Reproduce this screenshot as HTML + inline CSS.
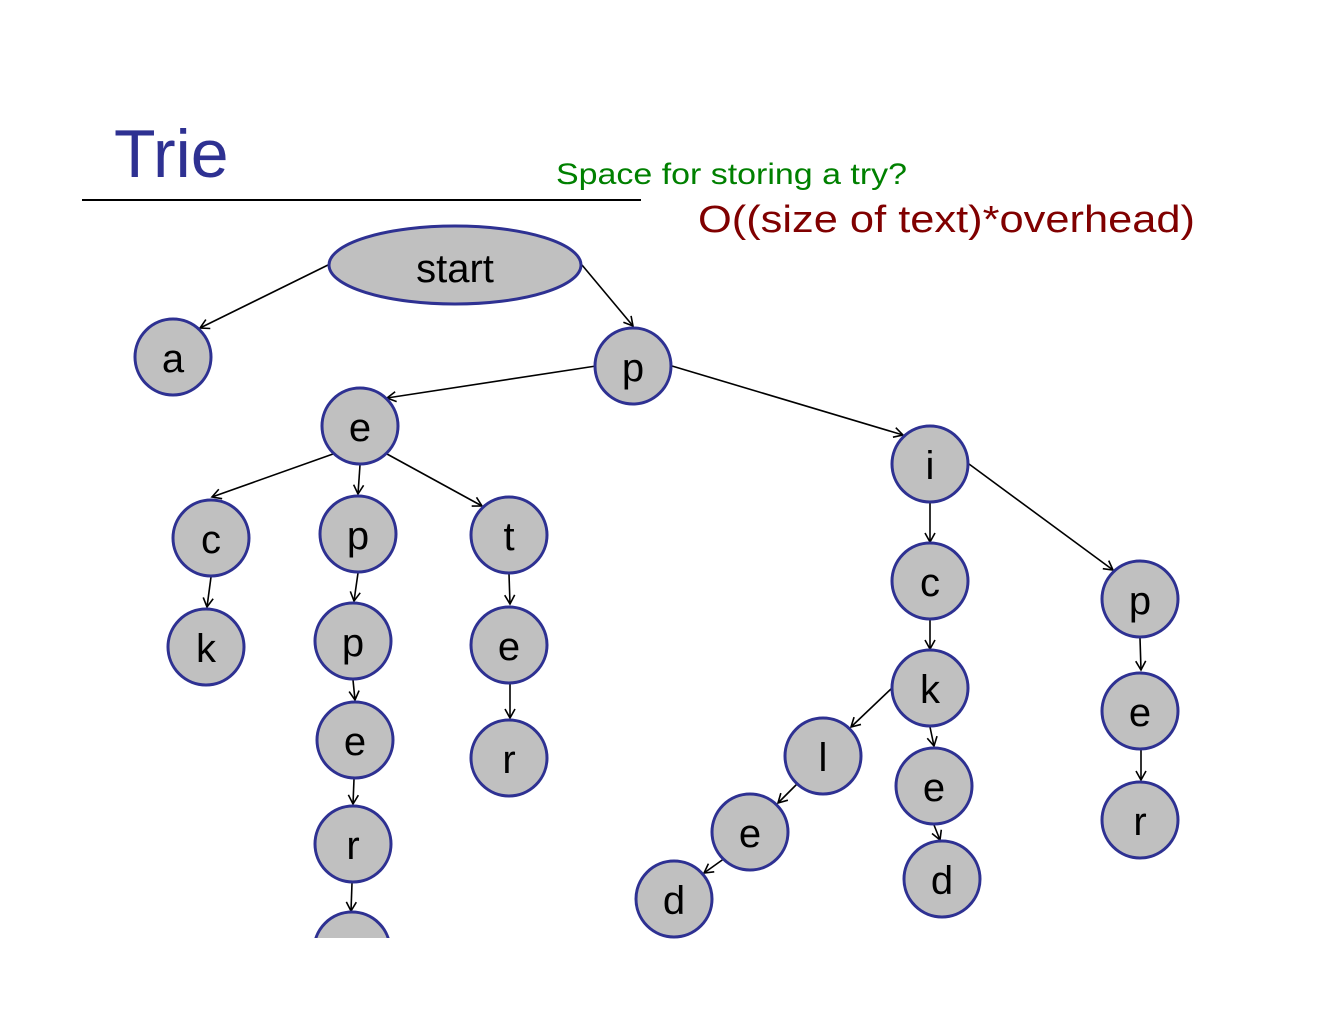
<!DOCTYPE html>
<html><head><meta charset="utf-8"><style>
html,body{margin:0;padding:0;background:#fff;}
svg{display:block;}
.n{fill:#c0c0c0;stroke:#2e3192;stroke-width:3;}
.t{font-family:"Liberation Sans",sans-serif;font-size:40px;fill:#000;text-anchor:middle;}
.e{stroke:#000;stroke-width:1.6;fill:none;marker-end:url(#ar);}
</style></head><body>
<svg width="1320" height="1020" viewBox="0 0 1320 1020" xmlns="http://www.w3.org/2000/svg">
<defs>
<marker id="ar" markerWidth="12" markerHeight="12" refX="10" refY="6" orient="auto" markerUnits="userSpaceOnUse">
<path d="M1,1 L10,6 L1,11" fill="none" stroke="#000" stroke-width="1.6"/>
</marker>
<clipPath id="cl"><rect x="0" y="0" width="1320" height="938"/></clipPath>
</defs>
<text x="114" y="177" font-family="Liberation Sans,sans-serif" font-size="68" fill="#2e3192">Trie</text>
<line x1="82" y1="200" x2="641" y2="200" stroke="#000" stroke-width="2"/>
<text x="556" y="184" font-family="Liberation Sans,sans-serif" font-size="30" fill="#008000" textLength="351" lengthAdjust="spacingAndGlyphs">Space for storing a try?</text>
<text x="698" y="232" font-family="Liberation Sans,sans-serif" font-size="38" fill="#800000" textLength="497" lengthAdjust="spacingAndGlyphs">O((size of text)*overhead)</text>

<g>
<line class="e" x1="328" y1="265" x2="200" y2="328"/>
<line class="e" x1="582" y1="265" x2="633" y2="326"/>
<line class="e" x1="596" y1="366" x2="387" y2="398"/>
<line class="e" x1="672" y1="366" x2="903" y2="435"/>
<line class="e" x1="333" y1="454" x2="212" y2="497"/>
<line class="e" x1="360" y1="465" x2="358" y2="494"/>
<line class="e" x1="387" y1="454" x2="482" y2="506"/>
<line class="e" x1="930" y1="503" x2="930" y2="542"/>
<line class="e" x1="969" y1="464" x2="1113" y2="570"/>
<line class="e" x1="211" y1="577" x2="207" y2="607"/>
<line class="e" x1="358" y1="573" x2="354" y2="601"/>
<line class="e" x1="509" y1="574" x2="510" y2="604"/>
<line class="e" x1="930" y1="620" x2="930" y2="649"/>
<line class="e" x1="1140" y1="638" x2="1141" y2="670"/>
<line class="e" x1="353" y1="680" x2="355" y2="700"/>
<line class="e" x1="510" y1="684" x2="510" y2="718"/>
<line class="e" x1="892" y1="688" x2="851" y2="727"/>
<line class="e" x1="930" y1="727" x2="934" y2="746"/>
<line class="e" x1="1141" y1="750" x2="1141" y2="780"/>
<line class="e" x1="354" y1="779" x2="353" y2="804"/>
<line class="e" x1="797" y1="784" x2="778" y2="803"/>
<line class="e" x1="934" y1="825" x2="940" y2="840"/>
<line class="e" x1="352" y1="883" x2="351" y2="911"/>
<line class="e" x1="725" y1="858" x2="704" y2="873"/>
</g>

<ellipse class="n" cx="455" cy="265" rx="126" ry="39"/>
<text class="t" x="455" y="282">start</text>

<g>
<circle class="n" cx="173" cy="357" r="38"/><text class="t" x="173" y="372">a</text>
<circle class="n" cx="633" cy="366" r="38"/><text class="t" x="633" y="381">p</text>
<circle class="n" cx="360" cy="426" r="38"/><text class="t" x="360" y="441">e</text>
<circle class="n" cx="930" cy="464" r="38"/><text class="t" x="930" y="479">i</text>
<circle class="n" cx="211" cy="538" r="38"/><text class="t" x="211" y="553">c</text>
<circle class="n" cx="358" cy="534" r="38"/><text class="t" x="358" y="549">p</text>
<circle class="n" cx="509" cy="535" r="38"/><text class="t" x="509" y="550">t</text>
<circle class="n" cx="206" cy="647" r="38"/><text class="t" x="206" y="662">k</text>
<circle class="n" cx="353" cy="641" r="38"/><text class="t" x="353" y="656">p</text>
<circle class="n" cx="509" cy="645" r="38"/><text class="t" x="509" y="660">e</text>
<circle class="n" cx="930" cy="581" r="38"/><text class="t" x="930" y="596">c</text>
<circle class="n" cx="1140" cy="599" r="38"/><text class="t" x="1140" y="614">p</text>
<circle class="n" cx="355" cy="740" r="38"/><text class="t" x="355" y="755">e</text>
<circle class="n" cx="509" cy="758" r="38"/><text class="t" x="509" y="773">r</text>
<circle class="n" cx="930" cy="688" r="38"/><text class="t" x="930" y="703">k</text>
<circle class="n" cx="823" cy="756" r="38"/><text class="t" x="823" y="771">l</text>
<circle class="n" cx="934" cy="786" r="38"/><text class="t" x="934" y="801">e</text>
<circle class="n" cx="1140" cy="711" r="38"/><text class="t" x="1140" y="726">e</text>
<circle class="n" cx="353" cy="844" r="38"/><text class="t" x="353" y="859">r</text>
<circle class="n" cx="750" cy="832" r="38"/><text class="t" x="750" y="847">e</text>
<circle class="n" cx="942" cy="879" r="38"/><text class="t" x="942" y="894">d</text>
<circle class="n" cx="1140" cy="820" r="38"/><text class="t" x="1140" y="835">r</text>
<circle class="n" cx="674" cy="899" r="38"/><text class="t" x="674" y="914">d</text>
<circle class="n" cx="352" cy="950" r="38" clip-path="url(#cl)"/>
</g>
</svg>
</body></html>
